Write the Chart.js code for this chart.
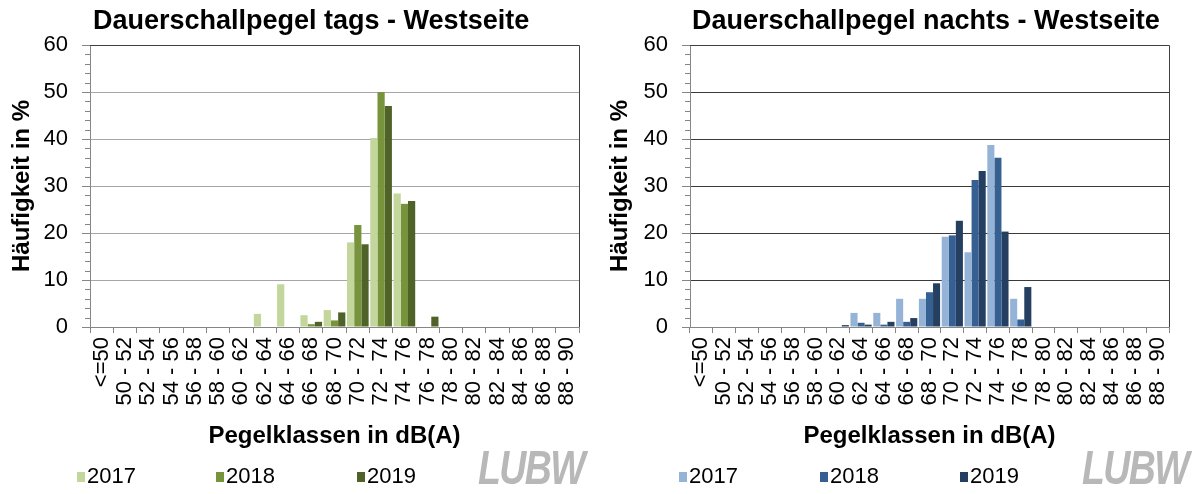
<!DOCTYPE html>
<html>
<head>
<meta charset="utf-8">
<script src="https://cdn.jsdelivr.net/npm/chart.js"></script>
<style>
body { margin: 0; background: #fff; font-family: "Liberation Sans", Arial, sans-serif; }
#wrap { position: relative; width: 1195px; height: 494px; overflow: hidden; }
canvas { position: absolute; top: 0; }
.title { position: absolute; top: 7px; font-weight: bold; font-size: 27px; line-height: 27px; white-space: nowrap; color: #000; }
.box { position: absolute; top: 472px; width: 8px; height: 10px; }
.ltext { position: absolute; top: 465px; font-size: 22px; line-height: 22px; color: #000; }
.logo { position: absolute; top: 444px; font-size: 48px; line-height: 48px; font-weight: bold; font-style: italic; color: #b8b8b8; transform: scaleX(0.78); transform-origin: 0 0; letter-spacing: -2px; }
</style>
</head>
<body>
<div id="wrap">
  <canvas id="tags" width="598" height="494" style="left:0"></canvas>
  <canvas id="nachts" width="597" height="494" style="left:598px"></canvas>
  <div class="title" style="left:93px">Dauerschallpegel tags - Westseite</div>
  <div class="title" style="left:692px">Dauerschallpegel nachts - Westseite</div>
  <div class="logo" style="left:478px">LUBW</div>
  <div class="logo" style="left:1082px">LUBW</div>
</div>
<script>
const labels = ['<=50', '50 - 52', '52 - 54', '54 - 56', '56 - 58', '58 - 60', '60 - 62', '62 - 64', '64 - 66', '66 - 68',
  '68 - 70', '70 - 72', '72 - 74', '74 - 76', '76 - 78', '78 - 80', '80 - 82', '82 - 84', '84 - 86', '86 - 88', '88 - 90'];
const years = ['2017', '2018', '2019'];

// Häufigkeit in % je Pegelklasse
const tags2017 = [0, 0, 0, 0, 0, 0, 0, 2.8, 9.1, 2.5, 3.6, 18.0, 40.2, 28.4, 0, 0, 0, 0, 0, 0, 0];
const tags2018 = [0, 0, 0, 0, 0, 0, 0, 0, 0, 0.6, 1.4, 21.7, 50.0, 26.2, 0, 0, 0, 0, 0, 0, 0];
const tags2019 = [0, 0, 0, 0, 0, 0, 0, 0, 0, 1.1, 3.1, 17.6, 47.0, 26.8, 2.2, 0, 0, 0, 0, 0, 0];

const nachts2017 = [0, 0, 0, 0, 0, 0, 0, 3.0, 3.0, 6.0, 6.0, 19.2, 15.9, 38.7, 6.0, 0, 0, 0, 0, 0, 0];
const nachts2018 = [0, 0, 0, 0, 0, 0, 0, 0.9, 0.5, 1.1, 7.4, 19.5, 31.3, 36.0, 1.6, 0, 0, 0, 0, 0, 0];
const nachts2019 = [0, 0, 0, 0, 0, 0, 0.4, 0.5, 1.1, 1.9, 9.3, 22.6, 33.2, 20.3, 8.5, 0, 0, 0, 0, 0, 0];

const greens = ['#c3d69b', '#77933c', '#4f6228'];
const blues = ['#95b3d7', '#376092', '#243f60'];

Chart.defaults.font.family = '"Liberation Sans", Arial, sans-serif';
Chart.defaults.color = '#000';

const frame = {
  id: 'frame',
  afterDraw(chart) {
    const ctx = chart.ctx;
    const a = chart.chartArea;
    const y = chart.scales.y;
    ctx.save();
    ctx.lineWidth = 1;
    ctx.strokeStyle = '#868686';
    ctx.beginPath();
    for (let v = 2; v < 60; v += 2) {
      if (v % 10 === 0) continue;
      const py = Math.round(y.getPixelForValue(v)) + 0.5;
      ctx.moveTo(a.left - 5, py);
      ctx.lineTo(a.left, py);
    }
    ctx.stroke();
    ctx.strokeStyle = '#404040';
    ctx.beginPath();
    ctx.moveTo(a.left, Math.round(a.top) + 0.5);
    ctx.lineTo(Math.round(a.right) + 0.5, Math.round(a.top) + 0.5);
    ctx.lineTo(Math.round(a.right) + 0.5, a.bottom);
    ctx.stroke();
    ctx.restore();
  }
};

function makeChart(id, series, colors, gridColor, axisWidth, padRight) {
  new Chart(document.getElementById(id), {
    type: 'bar',
    data: {
      labels: labels,
      datasets: series.map(function(d, i) {
        return {
          label: years[i],
          data: d,
          backgroundColor: colors[i],
          borderWidth: 0,
          categoryPercentage: 0.93,
          barPercentage: 1.0
        };
      })
    },
    options: {
      responsive: false,
      animation: false,
      devicePixelRatio: 1,
      layout: { padding: { top: 45, right: padRight, bottom: 43, left: 0 } },
      plugins: {
        legend: { display: false },
        title: { display: false },
        tooltip: { enabled: false }
      },
      scales: {
        x: {
          afterFit: function(s) { s.height = 124; },
          grid: { offset: true, drawOnChartArea: false, tickLength: 6, tickColor: '#868686' },
          border: { color: '#868686' },
          ticks: { autoSkip: false, maxRotation: 90, minRotation: 90, padding: 4, font: { size: 22 } },
          title: { display: true, text: 'Pegelklassen in dB(A)', font: { size: 24, weight: 'bold' }, padding: 0 }
        },
        y: {
          min: 0,
          max: 60,
          afterFit: function(s) { s.width = axisWidth; },
          grid: {
            color: function(c) {
              if (c.tick.value === 60) return '#404040';
              if (c.tick.value === 0) return '#868686';
              return gridColor;
            },
            tickLength: 8,
            tickColor: '#868686'
          },
          border: { color: '#868686' },
          ticks: { stepSize: 10, padding: 14, font: { size: 22 } },
          title: { display: true, text: 'Häufigkeit in %', font: { size: 24, weight: 'bold' }, padding: { top: 8, bottom: 0 } }
        }
      }
    },
    plugins: [frame]
  });
}

makeChart('tags', [tags2017, tags2018, tags2019], greens, '#a6a6a6', 90, 9);
makeChart('nachts', [nachts2017, nachts2018, nachts2019], blues, '#3a3a3a', 92, 26);

// Legende
const wrap = document.getElementById('wrap');
function addLegend(xs, colors) {
  years.forEach(function(yr, i) {
    const b = document.createElement('div');
    b.className = 'box';
    b.style.left = xs[i] + 'px';
    b.style.background = colors[i];
    wrap.appendChild(b);
    const t = document.createElement('div');
    t.className = 'ltext';
    t.style.left = (xs[i] + 10) + 'px';
    t.textContent = yr;
    wrap.appendChild(t);
  });
}
addLegend([77, 216, 357], greens);
addLegend([679, 820, 960], blues);
</script>
</body>
</html>
